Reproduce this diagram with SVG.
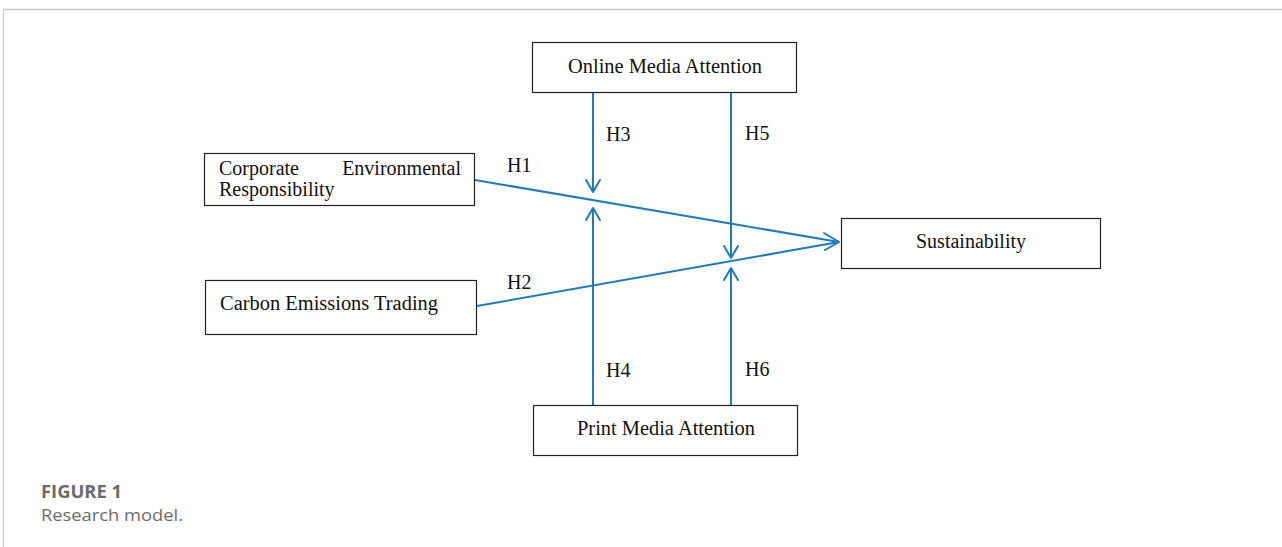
<svg xmlns="http://www.w3.org/2000/svg" width="1282" height="547" viewBox="0 0 1282 547">
<style>
.box{fill:#fff;stroke:#222;stroke-width:1.2}
.t{font-family:"Liberation Serif",serif;font-size:20px;fill:#111}
.c{stroke:#1f7bc1;stroke-width:2;fill:none}
.ah{stroke:#1f7bc1;stroke-width:2;fill:none;stroke-linecap:round;stroke-linejoin:round}
.cap{font-family:"Open Sans",Lato,sans-serif;fill:#6b6b6b;font-size:17px}
</style>
<rect width="1282" height="547" fill="#fff"/>
<g id="frame">
<line x1="3" y1="9.5" x2="1282" y2="9.5" stroke="#c8c8c8" stroke-width="1.5"/>
<line x1="3.5" y1="9" x2="3.5" y2="547" stroke="#c8c8c8" stroke-width="1.2"/>
</g>
<g id="connectors">
<line class="c" x1="475" y1="180" x2="839" y2="242"/>
<line class="c" x1="477" y1="306" x2="839" y2="242"/>
<polyline class="ah" points="824,233 839,242 825,250"/>
<line class="c" x1="593" y1="92" x2="593" y2="192"/>
<polyline class="ah" points="586,180 593,192 600,180"/>
<line class="c" x1="593" y1="405" x2="593" y2="208"/>
<polyline class="ah" points="586,220 593,208 600,220"/>
<line class="c" x1="731" y1="92" x2="731" y2="258"/>
<polyline class="ah" points="724,246 731,258 738,246"/>
<line class="c" x1="731" y1="405" x2="731" y2="268"/>
<polyline class="ah" points="724,280 731,268 738,280"/>
<text class="t" x="507" y="172">H1</text>
<text class="t" x="507" y="289">H2</text>
<text class="t" x="606" y="141">H3</text>
<text class="t" x="606" y="377">H4</text>
<text class="t" x="745" y="140">H5</text>
<text class="t" x="745" y="376">H6</text>
</g>
<g id="online">
<rect class="box" x="532.5" y="42.5" width="264" height="50"/>
<text class="t" x="665" y="73" text-anchor="middle" textLength="194" lengthAdjust="spacingAndGlyphs">Online Media Attention</text>
</g>
<g id="cer">
<rect class="box" x="204.5" y="153.5" width="270" height="52"/>
<text class="t" x="219" y="175" font-size="19.5">Corporate</text>
<text class="t" x="461" y="175" font-size="19.5" text-anchor="end">Environmental</text>
<text class="t" x="219" y="196" font-size="19.5">Responsibility</text>
</g>
<g id="sustainability">
<rect class="box" x="841.5" y="218.5" width="259" height="50"/>
<text class="t" x="971" y="248" text-anchor="middle">Sustainability</text>
</g>
<g id="carbon">
<rect class="box" x="205.5" y="280.5" width="271" height="54"/>
<text class="t" x="220" y="310" textLength="218" lengthAdjust="spacingAndGlyphs">Carbon Emissions Trading</text>
</g>
<g id="print">
<rect class="box" x="533.5" y="405.5" width="264" height="50"/>
<text class="t" x="666" y="435" text-anchor="middle" textLength="178" lengthAdjust="spacingAndGlyphs">Print Media Attention</text>
</g>
<g id="caption">
<text class="cap" x="41" y="498" font-weight="bold" textLength="81" lengthAdjust="spacingAndGlyphs">FIGURE 1</text>
<text class="cap" x="41" y="521" textLength="142" lengthAdjust="spacingAndGlyphs">Research model.</text>
</g>
</svg>
